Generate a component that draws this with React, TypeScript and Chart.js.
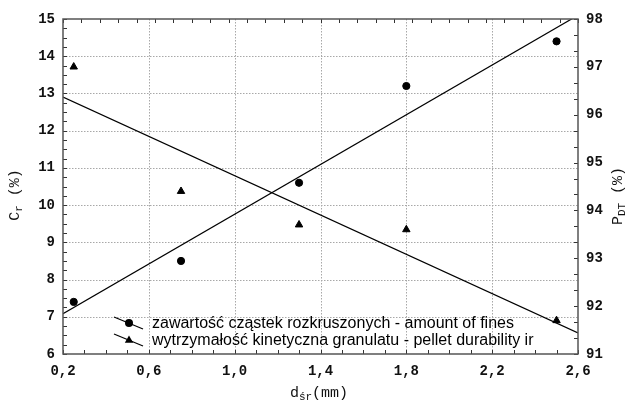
import React, { useEffect, useRef } from "react";
import { Chart, registerables } from "chart.js";

Chart.register(...registerables);

// Mean particle diameter d_śr (mm) for each measured sample
const diameters = [0.25, 0.75, 1.3, 1.8, 2.5];
// Amount of fines C_r (%) – left axis
const finesValues = [7.4, 8.5, 10.6, 13.2, 14.4];
// Pellet durability P_DT (%) – right axis
const durabilityValues = [97.0, 94.4, 93.7, 93.6, 91.7];

// Straight trend lines (end points at the axis limits)
const trendX = [0.2, 2.6];
const finesTrend = [7.08, 15.1];
const durabilityTrend = [96.37, 91.44];

// Axis ranges / steps
const xRange = [0.2, 2.6];
const xStep = 0.4;
const leftRange = [6, 15];
const rightRange = [91, 98];

const legendLabels = [
  "zawartość cząstek rozkruszonych - amount of fines",
  "wytrzymałość kinetyczna granulatu - pellet durability ir",
];

const TICK_FONT = { family: "Liberation Mono", size: 14, weight: "bold" as const };
const TITLE_FONT = '15px "Liberation Mono"';
const SUB_FONT = '11px "Liberation Mono"';

type Part = { text: string; sub?: boolean };

function drawRich(ctx: CanvasRenderingContext2D, parts: Part[], cx: number, cy: number, angle: number) {
  ctx.save();
  let total = 0;
  const widths = parts.map((p) => {
    ctx.font = p.sub ? SUB_FONT : TITLE_FONT;
    const w = ctx.measureText(p.text).width;
    total += w;
    return w;
  });
  ctx.translate(cx, cy);
  ctx.rotate(angle);
  ctx.fillStyle = "#111";
  ctx.textBaseline = "middle";
  ctx.textAlign = "left";
  let x = -total / 2;
  parts.forEach((p, i) => {
    ctx.font = p.sub ? SUB_FONT : TITLE_FONT;
    ctx.fillText(p.text, x, p.sub ? 4 : 0);
    x += widths[i];
  });
  ctx.restore();
}

// Dotted grid behind the data
const gridPlugin = {
  id: "dottedGrid",
  beforeDatasetsDraw(chart: any) {
    const { ctx, chartArea: a, scales } = chart;
    ctx.save();
    ctx.fillStyle = "#a8a8a8";
    // vertical grid at the major x ticks, drawn as 1px dots every 3px
    for (let v = xRange[0] + xStep; v < xRange[1] - 1e-6; v += xStep) {
      const px = Math.round(scales.x.getPixelForValue(v));
      for (let y = Math.ceil(a.top); y < a.bottom; y += 3) ctx.fillRect(px, y, 1, 1.5);
    }
    // horizontal grid at the major left-axis ticks
    for (let v = leftRange[0] + 1; v < leftRange[1]; v += 1) {
      const py = Math.round(scales.y.getPixelForValue(v));
      for (let x = Math.ceil(a.left); x < a.right; x += 3) ctx.fillRect(x, py, 1.5, 1);
    }
    ctx.restore();
  },
};

const framePlugin = {
  id: "frameAndTicks",
  afterDraw(chart: any) {
    const { ctx, chartArea: a, scales } = chart;
    ctx.save();
    ctx.setLineDash([]);
    ctx.strokeStyle = "#333";
    ctx.lineWidth = 1;
    ctx.beginPath();
    const len = 4;
    // bottom axis: every 0.1
    for (let i = 0; i <= 24; i++) {
      const px = Math.round(scales.x.getPixelForValue(xRange[0] + i * 0.1)) + 0.5;
      ctx.moveTo(px, a.bottom);
      ctx.lineTo(px, a.bottom - len);
    }
    // top axis
    for (let i = 0; i <= 28; i++) {
      const px = Math.round(scales.x2.getPixelForValue(i)) + 0.5;
      ctx.moveTo(px, a.top);
      ctx.lineTo(px, a.top + len);
    }
    // left axis: every 0.25
    for (let i = 0; i <= 36; i++) {
      const py = Math.round(scales.y.getPixelForValue(leftRange[0] + i * 0.25)) + 0.5;
      ctx.moveTo(a.left, py);
      ctx.lineTo(a.left + len, py);
    }
    // right axis: every 1/3
    for (let i = 0; i <= 21; i++) {
      const py = Math.round(scales.y2.getPixelForValue(rightRange[0] + i / 3)) + 0.5;
      ctx.moveTo(a.right, py);
      ctx.lineTo(a.right - len, py);
    }
    ctx.stroke();

    // plot frame
    ctx.strokeStyle = "#555";
    ctx.lineWidth = 1.5;
    ctx.strokeRect(a.left, a.top, a.right - a.left, a.bottom - a.top);

    // axis titles
    drawRich(ctx, [{ text: "C" }, { text: "r", sub: true }, { text: " (%)" }], 15, 195, -Math.PI / 2);
    drawRich(ctx, [{ text: "P" }, { text: "DT", sub: true }, { text: " (%)" }], 618, 196, -Math.PI / 2);
    drawRich(ctx, [{ text: "d" }, { text: "śr", sub: true }, { text: "(mm)" }], 319, 393, 0);

    // legend inside the plot area
    const mx = a.left + 66;
    const rows = [a.bottom - 31, a.bottom - 14];
    ctx.fillStyle = "#000";
    ctx.strokeStyle = "#000";
    ctx.lineWidth = 1.2;
    rows.forEach((ry, i) => {
      ctx.beginPath();
      ctx.moveTo(mx - 15, ry - 6);
      ctx.lineTo(mx + 14, ry + 6);
      ctx.stroke();
      ctx.beginPath();
      if (i === 0) {
        ctx.arc(mx, ry, 4, 0, Math.PI * 2);
      } else {
        ctx.moveTo(mx, ry - 4.5);
        ctx.lineTo(mx + 4.2, ry + 2.8);
        ctx.lineTo(mx - 4.2, ry + 2.8);
        ctx.closePath();
      }
      ctx.fill();
      ctx.font = '16px "Liberation Sans"';
      ctx.textBaseline = "middle";
      ctx.textAlign = "left";
      ctx.fillText(legendLabels[i], a.left + 89, ry + 1);
    });
    ctx.restore();
  },
};

export default function App() {
  const canvasRef = useRef<HTMLCanvasElement | null>(null);

  useEffect(() => {
    const canvas = canvasRef.current;
    if (!canvas) return;
    const pts = (ys: number[], xs: number[]) => xs.map((x, i) => ({ x, y: ys[i] }));

    const chart = new Chart(canvas, {
      type: "scatter",
      data: {
        datasets: [
          {
            label: legendLabels[0],
            data: pts(finesValues, diameters),
            yAxisID: "y",
            pointStyle: "circle",
            pointRadius: 3.6,
            borderWidth: 1,
            backgroundColor: "#000",
            borderColor: "#000",
            showLine: false,
          },
          {
            label: legendLabels[1],
            data: pts(durabilityValues, diameters),
            yAxisID: "y2",
            pointStyle: "triangle",
            pointRadius: 4.3,
            borderWidth: 1,
            backgroundColor: "#000",
            borderColor: "#000",
            showLine: false,
          },
          {
            label: "fines trend",
            data: pts(finesTrend, trendX),
            yAxisID: "y",
            showLine: true,
            pointRadius: 0,
            borderColor: "#000",
            borderWidth: 1.2,
          },
          {
            label: "durability trend",
            data: pts(durabilityTrend, trendX),
            yAxisID: "y2",
            showLine: true,
            pointRadius: 0,
            borderColor: "#000",
            borderWidth: 1.2,
          },
        ],
      },
      options: {
        responsive: false,
        animation: false,
        layout: { padding: 0 },
        plugins: { legend: { display: false }, tooltip: { enabled: false } },
        scales: {
          x: {
            type: "linear",
            position: "bottom",
            min: xRange[0],
            max: xRange[1],
            afterBuildTicks: (s: any) => {
              const t = [];
              for (let v = xRange[0]; v <= xRange[1] + 1e-9; v += xStep) t.push({ value: +v.toFixed(2) });
              s.ticks = t;
            },
            ticks: {
              callback: (v: any) => Number(v).toFixed(1).replace(".", ","),
              font: TICK_FONT,
              color: "#111",
              padding: 9,
              maxRotation: 0,
              autoSkip: false,
            },
            grid: { display: false, drawTicks: false },
            border: { display: false },
            afterFit: (s: any) => {
              s.height = 47;
            },
          },
          x2: {
            type: "linear",
            position: "top",
            min: 0,
            max: 28,
            ticks: { display: false },
            grid: { display: false, drawTicks: false },
            border: { display: false },
            afterFit: (s: any) => {
              s.height = 19;
            },
          },
          y: {
            type: "linear",
            position: "left",
            min: leftRange[0],
            max: leftRange[1],
            ticks: { stepSize: 1, font: TICK_FONT, color: "#111", padding: 8 },
            grid: { display: false, drawTicks: false },
            border: { display: false },
            afterFit: (s: any) => {
              s.width = 63;
            },
          },
          y2: {
            type: "linear",
            position: "right",
            min: rightRange[0],
            max: rightRange[1],
            ticks: { stepSize: 1, font: TICK_FONT, color: "#111", padding: 8 },
            grid: { display: false, drawTicks: false },
            border: { display: false },
            afterFit: (s: any) => {
              s.width = 50;
            },
          },
        },
      },
      plugins: [gridPlugin, framePlugin],
    } as any);

    return () => chart.destroy();
  }, []);

  return (
    <div style={{ position: "absolute", left: 0, top: 0, width: 628, height: 401, background: "#fff" }}>
      <canvas ref={canvasRef} width={628} height={401} style={{ display: "block" }} />
    </div>
  );
}
